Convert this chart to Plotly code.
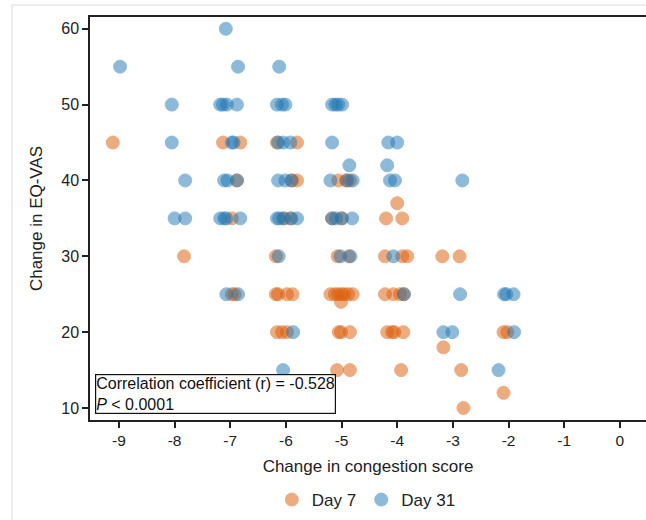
import plotly.graph_objects as go

# Day 7 (orange) points: change in congestion score, change in EQ-VAS
day7_x = [-9.11,
          -7.13, -6.82,
          -6.16, -5.80,
          -6.88, -5.89, -5.80, -5.06, -4.92, -4.85,
          -4.00,
          -6.97, -6.05, -5.92, -5.17, -5.00, -4.20, -3.91,
          -7.83, -6.18, -5.07, -4.87, -4.22, -3.91, -3.82, -3.19, -2.88,
          -6.97, -6.92, -6.18, -6.14, -5.98, -5.88,
          -5.20, -5.12, -5.06, -5.00, -4.95, -4.88, -4.80, -5.01,
          -4.22, -4.07, -3.95, -3.88,
          -6.16, -6.07, -5.98, -5.05, -5.01, -4.85,
          -4.18, -4.09, -4.05, -3.89, -3.17, -2.09, -2.02,
          -5.08, -4.85, -3.93, -2.85,
          -2.09, -2.81]
day7_y = [45,
          45, 45,
          45, 45,
          40, 40, 40, 40, 40, 40,
          37,
          35, 35, 35, 35, 35, 35, 35,
          30, 30, 30, 30, 30, 30, 30, 30, 30,
          25, 25, 25, 25, 25, 25,
          25, 25, 25, 25, 25, 25, 25, 24,
          25, 25, 25, 25,
          20, 20, 20, 20, 20, 20,
          20, 20, 20, 20, 18, 20, 20,
          15, 15, 15, 15,
          12, 10]

# Day 31 (blue) points
day31_x = [-8.98, -7.08, -6.86, -6.12,
           -8.05, -7.18, -7.13, -7.06, -6.88, -6.16, -6.07, -6.01, -5.17, -5.11, -5.06, -4.99,
           -8.05, -6.97, -6.94, -6.14, -6.05, -5.92, -5.17, -4.16, -4.00,
           -4.86, -4.18,
           -7.81, -7.11, -7.05, -6.88, -6.14, -6.01, -5.90, -5.20, -4.90, -4.80, -4.13, -4.04, -2.83,
           -8.00, -7.81, -7.18, -7.11, -7.07, -6.82, -6.16, -6.12, -6.03, -5.90, -5.80,
           -5.17, -5.10, -4.99, -4.81,
           -6.13, -5.02, -4.84, -4.07,
           -7.07, -6.86, -3.88, -2.87, -2.08, -2.04, -1.91,
           -5.87, -3.17, -3.01, -1.90,
           -6.05, -2.18]
day31_y = [55, 60, 55, 55,
           50, 50, 50, 50, 50, 50, 50, 50, 50, 50, 50, 50,
           45, 45, 45, 45, 45, 45, 45, 45, 45,
           42, 42,
           40, 40, 40, 40, 40, 40, 40, 40, 40, 40, 40, 40, 40,
           35, 35, 35, 35, 35, 35, 35, 35, 35, 35, 35,
           35, 35, 35, 35,
           30, 30, 30, 30,
           25, 25, 25, 25, 25, 25, 25,
           20, 20, 20, 20,
           15, 15]

x_ticks = [-9, -8, -7, -6, -5, -4, -3, -2, -1, 0]
y_ticks = [10, 20, 30, 40, 50, 60]
series_names = ["Day 7", "Day 31"]
annotation_text = "Correlation coefficient (r) = -0.528<br><i>P</i> < 0.0001"

ORANGE = "#DE600E"
BLUE = "#1F77B4"
FONT = "Liberation Sans, Arial, sans-serif"

fig = go.Figure()
fig.add_trace(go.Scatter(
    x=day7_x, y=day7_y, mode="markers", name=series_names[0],
    marker=dict(size=13, color=ORANGE, opacity=0.52,
                line=dict(width=1, color=ORANGE)),
))
fig.add_trace(go.Scatter(
    x=day31_x, y=day31_y, mode="markers", name=series_names[1],
    marker=dict(size=13, color=BLUE, opacity=0.5,
                line=dict(width=1, color=BLUE)),
))

L, T, R, B = 90, 17, 0, 100
W, H = 646, 520
pw, ph = W - L - R, H - T - B

def px_x(p):
    return (p - L) / pw

def px_y(p):
    return (H - B - p) / ph

fig.update_layout(
    width=W, height=H,
    margin=dict(l=L, r=R, t=T, b=B),
    paper_bgcolor="white", plot_bgcolor="white",
    font=dict(family=FONT, color="#222", size=15),
    showlegend=True,
    legend=dict(orientation="h", x=0.497, xanchor="center",
                y=px_y(500), yanchor="middle",
                font=dict(size=17, color="#222"),
                itemwidth=30, tracegroupgap=0, bgcolor="rgba(0,0,0,0)"),
    xaxis=dict(range=[-9.52, 0.47], tickvals=x_ticks,
               ticktext=[str(v) for v in x_ticks],
               showgrid=False, zeroline=False,
               showline=True, linecolor="#222", linewidth=1.5, mirror=True,
               ticks="outside", ticklen=6, tickwidth=1.5, tickcolor="#222",
               tickfont=dict(size=15.5, color="#222"),
               title=dict(text="Change in congestion score",
                          font=dict(size=17, color="#222"), standoff=12)),
    yaxis=dict(range=[8.42, 61.55], tickvals=y_ticks,
               showgrid=False, zeroline=False,
               showline=True, linecolor="#222", linewidth=1.5, mirror=False,
               ticks="outside", ticklen=6, tickwidth=1.5, tickcolor="#222",
               tickfont=dict(size=16, color="#222"),
               title=dict(text="Change in EQ-VAS",
                          font=dict(size=17, color="#222"), standoff=14)),
    annotations=[dict(
        text=annotation_text, xref="paper", yref="paper",
        x=px_x(95), y=px_y(414), xanchor="left", yanchor="bottom",
        align="left", showarrow=False,
        font=dict(size=16, color="#111"),
        bordercolor="#111", borderwidth=1.2, borderpad=0, bgcolor="white",
    )],
    shapes=[
        dict(type="line", xref="paper", yref="paper",
             x0=px_x(12), x1=px_x(12), y0=px_y(5), y1=px_y(525),
             line=dict(color="#dcdcdc", width=1)),
        dict(type="line", xref="paper", yref="paper",
             x0=px_x(12), x1=px_x(700), y0=px_y(5), y1=px_y(5),
             line=dict(color="#dcdcdc", width=1)),
    ],
)

fig.write_html("out.html")
